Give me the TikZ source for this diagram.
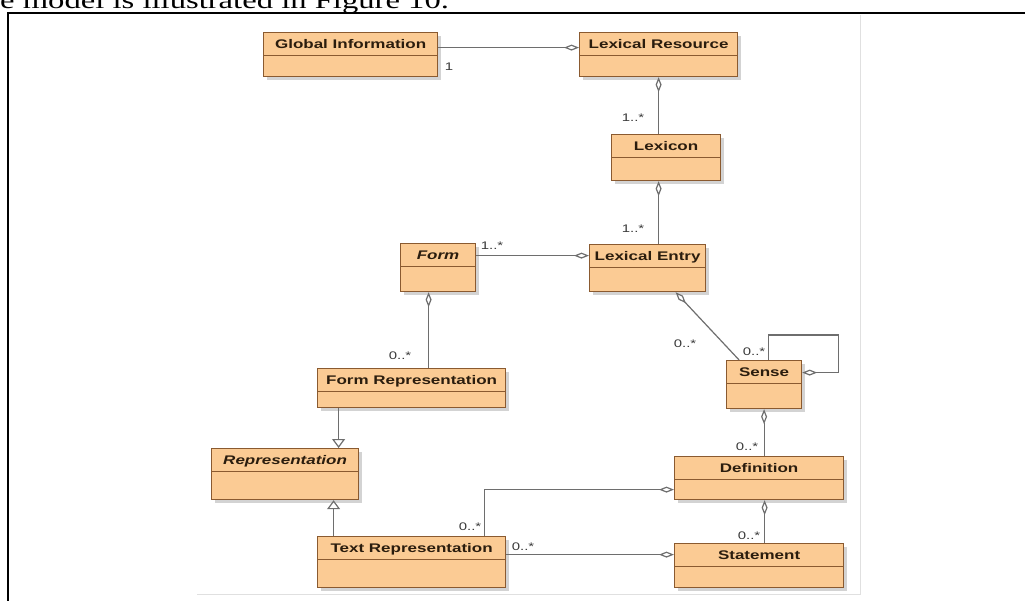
\documentclass[tikz,border=0pt]{standalone}
\usepackage{fontspec}
\usepackage{xcolor}
\usepackage{tikz}
\usetikzlibrary{positioning}
\usetikzlibrary{arrows.meta}
\usetikzlibrary{shadows}

\newfontfamily\classfont[FakeStretch=1.36]{Liberation Sans}
\newfontfamily\docfont[FakeStretch=1.36]{Liberation Serif}

\definecolor{boxfill}{HTML}{FBCB94}
\definecolor{boxline}{HTML}{8A5A30}
\definecolor{titletext}{HTML}{2B1D0E}
\definecolor{linkgray}{HTML}{6E6E6E}
\definecolor{multgray}{HTML}{3A3A3A}
\definecolor{shadowgray}{HTML}{A8A8A8}

\tikzset{
  umlclass/.style={anchor=north west, draw=boxline, line width=1.2pt, fill=boxfill,
    inner sep=0pt, text height=16pt, text=titletext,
    font=\classfont\bfseries\fontsize{12.5}{14}\selectfont,
    drop shadow={shadow xshift=3pt, shadow yshift=-3pt, fill=shadowgray},
    path picture={\draw[boxline, line width=1.2pt]
      ([yshift=-23pt]path picture bounding box.north west) --
      ([yshift=-23pt]path picture bounding box.north east);}},
  mult/.style={inner sep=0pt, text=multgray, font=\classfont\fontsize{11}{13}\selectfont},
  aggr/.style={draw=linkgray, line width=1.2pt, -{Diamond[open, length=15pt, width=6pt]}},
  gen/.style={draw=linkgray, line width=1.2pt, -{Triangle[open, length=9pt, width=13pt]}}
}

\begin{document}
\begin{tikzpicture}[x=1pt, y=-1pt]  % one unit is one pixel of the figure, y runs down
    \clip (0,0) rectangle (1025,600);

    % Page text and frame
    \node[anchor=base west, inner sep=0pt, font=\docfont\fontsize{24}{28}\selectfont] (caption) at (0,8) {e model is illustrated in Figure 10.};
    \draw[line width=2.5pt] (8,610) -- (8,13) -- (1035,13);
    \draw[black!12] (197,594) -- (860,594) -- (860,15);

    % Classes
    \node[umlclass, minimum width=174pt, text depth=28pt] (global) at (263,32) {Global Information};
    \node[umlclass, minimum width=158pt, text depth=28pt] (lexres) at (579,32) {Lexical Resource};
    \node[umlclass, minimum width=109pt, text depth=30pt] (lexicon) at (611,134) {Lexicon};
    \node[umlclass, minimum width=116pt, text depth=31pt] (lexentry) at (589,244) {Lexical Entry};
    \node[umlclass, minimum width=75pt, text depth=32pt] (form) at (400,243) {\itshape Form};
    \node[umlclass, minimum width=188pt, text depth=23pt] (formrep) at (317,368) {Form Representation};
    \node[umlclass, minimum width=147pt, text depth=35pt] (repr) at (211,448) {\itshape Representation};
    \node[umlclass, minimum width=188pt, text depth=35pt] (textrep) at (317,536) {Text Representation};
    \node[umlclass, minimum width=75pt, text depth=32pt] (sense) at (726,360) {Sense};
    \node[umlclass, minimum width=169pt, text depth=27pt] (definition) at (674,456) {Definition};
    \node[umlclass, minimum width=169pt, text depth=28pt] (statement) at (674,543) {Statement};

    % Aggregations (diamond at the whole)
    \draw[aggr] ([yshift=7pt]global.east) -- ([yshift=7pt]lexres.west);
    \draw[aggr] (lexicon.north -| lexres.south) -- (lexres.south);
    \draw[aggr] (lexentry.north -| lexres.south) -- (lexicon.south -| lexres.south);
    \draw[aggr] ([yshift=12pt]form.east) -- ([yshift=12.5pt]lexentry.west);
    \draw[aggr] ([xshift=-25pt]sense.north) -- ([xshift=28pt]lexentry.south);
    \draw[aggr] ([xshift=4.5pt]sense.north) -- ++(0,-25) -- ++(70,0) |- ([yshift=12pt]sense.east); % self loop
    \draw[aggr] (definition.north -| sense.south) -- (sense.south);
    \draw[aggr] ([xshift=5.5pt]statement.north) -- ([xshift=5.5pt]definition.south);
    \draw[aggr] ([xshift=73pt]textrep.north) |- ([yshift=-11.5pt]definition.west);
    \draw[aggr] ([yshift=7.5pt]textrep.east) -- ([yshift=11pt]statement.west);
    \draw[aggr] ([xshift=17pt]formrep.north) -- ([xshift=-9.5pt]form.south);

    % Generalizations
    \draw[gen] ([xshift=-73pt]formrep.south) -- ([xshift=53.5pt]repr.north);
    \draw[gen] ([xshift=-78pt]textrep.north) -- ([xshift=48.5pt]repr.south);

    % Multiplicities
    \node[mult] (m-global) at (449,67) {1};
    \node[mult] (m-lexicon) at (633,118) {1..*};
    \node[mult] (m-lexentry) at (633,229) {1..*};
    \node[mult] (m-form) at (492,246) {1..*};
    \node[mult] (m-formrep) at (400,356) {0..*};
    \node[mult] (m-sense) at (685,344) {0..*};
    \node[mult] (m-senseloop) at (754,352) {0..*};
    \node[mult] (m-definition) at (747,447) {0..*};
    \node[mult] (m-statement) at (749,536) {0..*};
    \node[mult] (m-textrep) at (470,527) {0..*};
    \node[mult] (m-textrep2) at (523,547) {0..*};
\end{tikzpicture}
\end{document}
